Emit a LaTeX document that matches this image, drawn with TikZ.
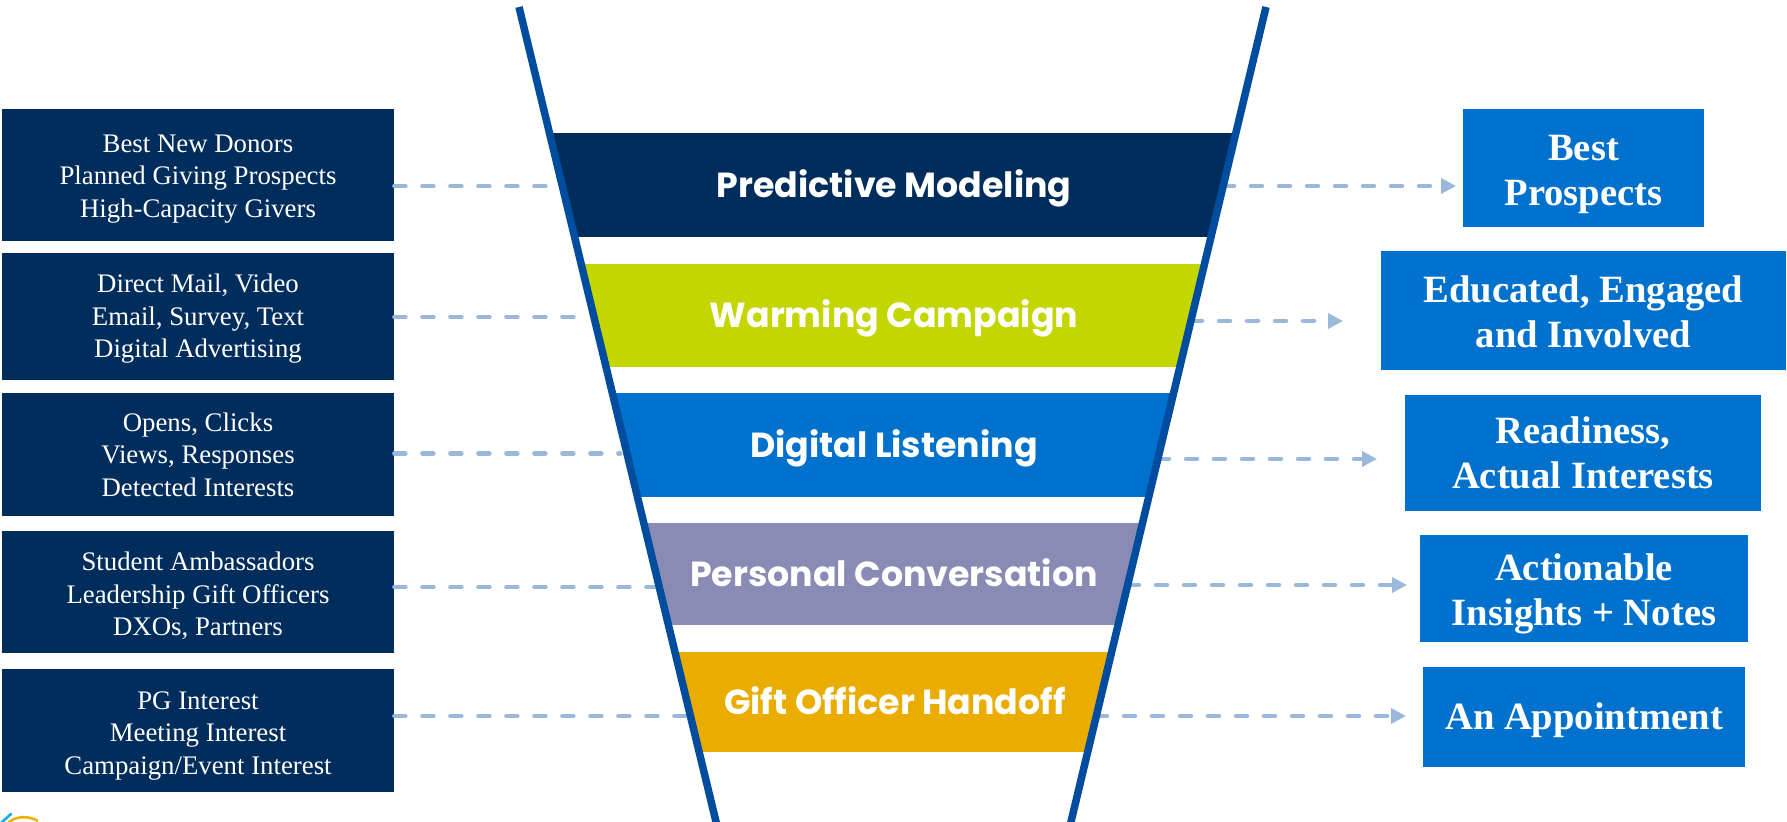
\documentclass[tikz,border=0pt]{standalone}
\usepackage{fontspec}
\setmainfont{Liberation Serif}
\newfontfamily\bandfont{Poppins}
\usetikzlibrary{arrows.meta}
\definecolor{navy}{HTML}{002D5C}
\definecolor{lime}{HTML}{C3D600}
\definecolor{mblue}{HTML}{0072CE}
\definecolor{lav}{HTML}{8A8BB5}
\definecolor{gold}{HTML}{EBAC00}
\definecolor{fline}{HTML}{004C9E}
\definecolor{dashc}{HTML}{9AB8DA}
\definecolor{logocyan}{HTML}{1EA7E1}
\definecolor{logogold}{HTML}{F0B400}
\newcommand\lbfont{\fontsize{13.4}{16.3}\selectfont}
\newcommand\rbfont{\fontsize{19.3}{22.5}\selectfont\bfseries}
\newcommand\bdfont{\bandfont\bfseries\fontsize{17.4}{20}\selectfont}
% shifted centred text block: #1 = downward shift, #2 = lines
\newcommand\dnlines[2]{\raisebox{-#1}[\height][\depth]{\begin{tabular}{@{}c@{}}#2\end{tabular}}}
\begin{document}
\begin{tikzpicture}[x=0.5pt,y=-0.5pt,
  leftbox/.style={fill=navy, text=white, inner sep=0pt, font=\lbfont, minimum width=196pt},
  rightbox/.style={fill=mblue, text=white, inner sep=0pt, font=\rbfont},
  bandtxt/.style={text=white, inner sep=0pt, font=\bdfont, text height=12.3pt, text depth=0pt},
  dashline/.style={draw=dashc, line width=2.25pt, line cap=round, dash pattern=on 5.5pt off 8.5pt},
  dasharrow/.style={dashline, -{Triangle[length=7.5pt,width=7.5pt]}},
  funnelline/.style={draw=fline, line width=3.75pt}]
\useasboundingbox (0,0) rectangle (1787,822);

% bands clipped to funnel
\begin{scope}
\clip (519,7) -- (1266,7) -- (1069,830) -- (718,830) -- cycle;
\fill[navy] (400,133) rectangle (1400,237);
\fill[lime] (400,264) rectangle (1400,367);
\fill[mblue] (400,393) rectangle (1400,497);
\fill[lav] (400,523) rectangle (1400,625);
\fill[gold] (400,652) rectangle (1400,752);
\end{scope}

\node[bandtxt] (b1) at (894,185) {Predictive Modeling};
\node[bandtxt] (b2) at (894,315.5) {Warming Campaign};
\node[bandtxt] (b3) at (894,445) {Digital Listening};
\node[bandtxt] (b4) at (894,574) {Personal Conversation};
\node[bandtxt] (b5) at (895,702) {Gift Officer Handoff};

% left boxes
\node[leftbox, minimum height=66pt] (lb1) at (198,175) {\dnlines{1.7pt}{Best New Donors\\Planned Giving Prospects\\High-Capacity Givers}};
\node[leftbox, minimum height=63.5pt] (lb2) at (198,316.5) {\dnlines{1.1pt}{Direct Mail, Video\\Email, Survey, Text\\Digital Advertising}};
\node[leftbox, minimum height=61.5pt] (lb3) at (198,454.5) {\dnlines{1.45pt}{Opens, Clicks\\Views, Responses\\Detected Interests}};
\node[leftbox, minimum height=61pt] (lb4) at (198,592) {\dnlines{2.3pt}{Student Ambassadors\\Leadership Gift Officers\\DXOs, Partners}};
\node[leftbox, minimum height=61.5pt] (lb5) at (198,730.5) {\dnlines{2.3pt}{PG Interest\\Meeting Interest\\Campaign/Event Interest}};

% right boxes
\node[rightbox, minimum width=120.5pt, minimum height=59pt] (rb1) at (1583.5,168) {\dnlines{2.8pt}{Best\\Prospects}};
\node[rightbox, minimum width=202.5pt, minimum height=59.5pt] (rb2) at (1583.5,310.5) {\dnlines{2.8pt}{Educated, Engaged\\and Involved}};
\node[rightbox, minimum width=178pt, minimum height=58pt] (rb3) at (1583,453) {\dnlines{1.9pt}{Readiness,\\Actual Interests}};
\node[rightbox, minimum width=164pt, minimum height=53.5pt] (rb4) at (1584,588.5) {\dnlines{2.8pt}{Actionable\\Insights + Notes}};
\node[rightbox, minimum width=161pt, minimum height=50pt] (rb5) at (1584,717) {\dnlines{1.7pt}{An Appointment}};

% connector end points
\coordinate (l1) at (558,186);
\coordinate (l2) at (590,317);
\coordinate (l3) at (620,453.5);
\coordinate (l4) at (655,587);
\coordinate (l5) at (686,716);
\coordinate (r1s) at (1223,186);  \coordinate (r1e) at (1456,186);
\coordinate (r2s) at (1191,321);  \coordinate (r2e) at (1343,321);
\coordinate (r3s) at (1158,459);  \coordinate (r3e) at (1377,459);
\coordinate (r4s) at (1128,585);  \coordinate (r4e) at (1407,585);
\coordinate (r5s) at (1096,716);  \coordinate (r5e) at (1406,716);

\draw[dashline] (lb1.east |- l1) -- (l1);
\draw[dashline] (lb2.east |- l2) -- (l2);
\draw[dashline] (lb3.east |- l3) -- (l3);
\draw[dashline] (lb4.east |- l4) -- (l4);
\draw[dashline] (lb5.east |- l5) -- (l5);
\draw[dasharrow] (r1s) -- (r1e);
\draw[dasharrow] (r2s) -- (r2e);
\draw[dasharrow] (r3s) -- (r3e);
\draw[dasharrow] (r4s) -- (r4e);
\draw[dasharrow] (r5s) -- (r5e);

% funnel lines
\draw[funnelline] (519,7) -- (718,830);
\draw[funnelline] (1266,7) -- (1069,830);

% logo fragment
\draw[logocyan, line width=1.3pt, line cap=round] (1,823) -- (11,814);
\draw[logogold, line width=1.3pt] (7,824) .. controls (14,816) and (28,815) .. (38,821);
\end{tikzpicture}
\end{document}
